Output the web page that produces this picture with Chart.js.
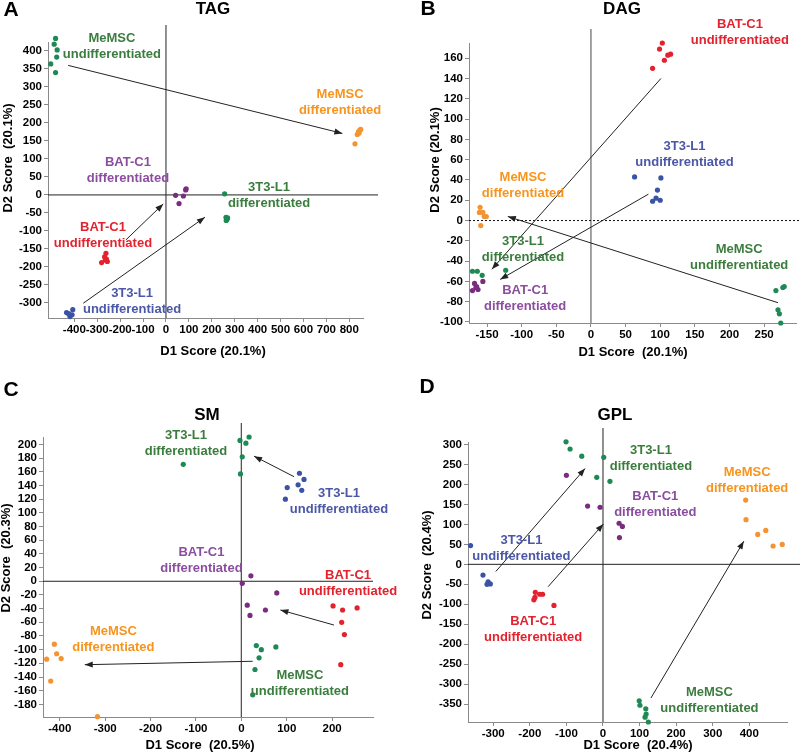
<!DOCTYPE html>
<html>
<head>
<meta charset="utf-8">
<script src="https://cdn.jsdelivr.net/npm/chart.js@4.4.0/dist/chart.umd.min.js"></script>
<style>
  body { margin: 0; background: #fff; }
  .panel { position: absolute; }
</style>
</head>
<body>
<canvas id="chartA" class="panel" width="400" height="376" style="left:0;top:0"></canvas>
<canvas id="chartB" class="panel" width="400" height="376" style="left:400px;top:0"></canvas>
<canvas id="chartC" class="panel" width="400" height="377" style="left:0;top:376px"></canvas>
<canvas id="chartD" class="panel" width="400" height="377" style="left:400px;top:376px"></canvas>
<script>
// ---- TAG (A) ----
const tagMemscUndiff = [[-482,435],[-488,419],[-475,403],[-477,383],[-503,364],[-482,340]];
const tagMemscDiff = [[825,142],[835,168],[840,175],[846,180],[850,182],[843,172]];
const tagBatDiff = [[86,14],[42,-1],[76,-3],[57,-24],[88,17]];
const tag3t3Diff = [[256,3],[262,-62],[266,-68],[269,-64],[263,-71]];
const tagBatUndiff = [[-281,-188],[-262,-162],[-256,-185],[-265,-181],[-268,-172],[-260,-178]];
const tag3t3Undiff = [[-434,-327],[-407,-319],[-419,-338],[-410,-333],[-425,-330]];
const tagArrows = [[-427,360,770,171],[-175,-125,-12,-25],[-361,-301,170,-62]];
const tagXTicks = [-400,-300,-200,-100,0,100,200,300,400,500,600,700,800];
const tagYTicks = [-300,-250,-200,-150,-100,-50,0,50,100,150,200,250,300,350,400];

// ---- DAG (B) ----
const dagBatUndiff = [[103,175],[99,169],[106,158],[111,163],[115,164],[89,150]];
const dag3t3Undiff = [[63,43],[101,42],[96,30],[89,19],[94,22],[100,20]];
const dagMemscDiff = [[-160,13],[-161,8],[-156,8],[-154,4],[-151,4],[-159,-5]];
const dag3t3Diff = [[-171,-50],[-164,-50],[-157,-54],[-123,-49]];
const dagBatDiff = [[-168,-62],[-165,-65],[-163,-68],[-171,-69],[-156,-60],[-166,-66]];
const dagMemscUndiff = [[267,-69],[277,-66],[279,-65],[270,-88],[272,-92],[274,-101]];
const dagArrows = [[101,140,-143,-48],[83,26,-131,-58],[270,-81,-120,4]];
const dagXTicks = [-150,-100,-50,0,50,100,150,200,250];
const dagYTicks = [-100,-80,-60,-40,-20,0,20,40,60,80,100,120,140,160];

// ---- SM (C) ----
const sm3t3Diff = [[-3,206],[10,202],[17,211],[2,182],[-2,157],[-128,171]];
const sm3t3Undiff = [[128,158],[138,149],[125,141],[133,133],[101,137],[97,120]];
const smBatDiff = [[21,8],[2,-3],[78,-17],[13,-35],[53,-42],[19,-50]];
const smBatUndiff = [[202,-36],[223,-42],[255,-39],[221,-60],[227,-78],[219,-122]];
const smMemscUndiff = [[33,-94],[44,-100],[76,-96],[39,-112],[30,-129],[25,-166]];
const smMemscDiff = [[-412,-92],[-407,-106],[-397,-113],[-429,-114],[-420,-146],[-317,-198]];
const smArrows = [[116,153,28,183],[204,-64,86,-42],[25,-117,-345,-122]];
const smXTicks = [-400,-300,-200,-100,0,100,200];
const smYTicks = [-180,-160,-140,-120,-100,-80,-60,-40,-20,0,20,40,60,80,100,120,140,160,180,200];

// ---- GPL (D) ----
const gpl3t3Diff = [[-101,307],[-90,289],[-58,271],[2,268],[-17,218],[19,208]];
const gplBatDiff = [[-100,223],[-42,146],[-8,143],[44,103],[53,95],[45,67]];
const gplMemscDiff = [[390,161],[391,112],[423,75],[445,85],[465,46],[490,50]];
const gpl3t3Undiff = [[-362,47],[-328,-27],[-314,-44],[-308,-49],[-317,-50]];
const gplBatUndiff = [[-185,-70],[-173,-75],[-165,-75],[-189,-89],[-186,-83],[-134,-103]];
const gplMemscUndiff = [[99,-342],[101,-353],[117,-362],[118,-375],[115,-383],[124,-395]];
const gplArrows = [[-293,-18,-49,240],[-150,-56,1,101],[131,-335,385,58]];
const gplXTicks = [-300,-200,-100,0,100,200,300,400];
const gplYTicks = [-350,-300,-250,-200,-150,-100,-50,0,50,100,150,200,250,300];

// colours
const GREEN = '#1d8a55', GREEN_TXT = '#3b7d3e';
const ORANGE = '#f39332', ORANGE_TXT = '#f7941d';
const RED = '#e3222e';
const BLUE = '#3a53a4', BLUE_TXT = '#4b57a7';
const PURPLE = '#7a2c80', PURPLE_TXT = '#8b4d9f';
const FONT = '"Liberation Sans", Arial, sans-serif';

function pts(arr) {
    return arr.map(p => ({ x: p[0], y: p[1] }));
}

function series(arr, color) {
    return { data: pts(arr), backgroundColor: color, borderWidth: 0, pointRadius: 2.6, clip: false };
}

function drawArrow(ctx, x1, y1, x2, y2) {
    ctx.beginPath();
    ctx.moveTo(x1, y1);
    ctx.lineTo(x2, y2);
    ctx.stroke();
    const a = Math.atan2(y2 - y1, x2 - x1), len = 8, w = 3;
    ctx.beginPath();
    ctx.moveTo(x2, y2);
    ctx.lineTo(x2 - len * Math.cos(a) + w * Math.sin(a), y2 - len * Math.sin(a) - w * Math.cos(a));
    ctx.lineTo(x2 - len * Math.cos(a) - w * Math.sin(a), y2 - len * Math.sin(a) + w * Math.cos(a));
    ctx.closePath();
    ctx.fill();
}

// draws zero lines, arrows, group labels and titles for one panel
const decorPlugin = {
    id: 'decor',
    beforeDatasetsDraw(chart) {
        const p = chart.options.plugins.decor;
        const ctx = chart.ctx, xs = chart.scales.x, ys = chart.scales.y;
        const x0 = xs.getPixelForValue(0), y0 = ys.getPixelForValue(0);
        ctx.save();
        ctx.strokeStyle = p.vColor;
        ctx.lineWidth = p.vWidth;
        ctx.setLineDash(p.vDash);
        ctx.beginPath();
        ctx.moveTo(x0, p.vTop);
        ctx.lineTo(x0, chart.chartArea.bottom);
        ctx.stroke();
        ctx.strokeStyle = p.hColor;
        ctx.lineWidth = 1;
        ctx.setLineDash(p.hDash);
        ctx.beginPath();
        ctx.moveTo(chart.chartArea.left, y0);
        ctx.lineTo(p.hRight, y0);
        ctx.stroke();
        ctx.restore();
    },
    afterDatasetsDraw(chart) {
        const p = chart.options.plugins.decor;
        const ctx = chart.ctx, xs = chart.scales.x, ys = chart.scales.y;
        ctx.save();
        ctx.strokeStyle = '#222';
        ctx.fillStyle = '#222';
        ctx.lineWidth = 1;
        p.arrows.forEach(a => {
            drawArrow(ctx, xs.getPixelForValue(a[0]), ys.getPixelForValue(a[1]),
                xs.getPixelForValue(a[2]), ys.getPixelForValue(a[3]));
        });
        ctx.textAlign = 'center';
        ctx.textBaseline = 'middle';
        ctx.font = 'bold 13px ' + FONT;
        p.labels.forEach(l => {
            const x = xs.getPixelForValue(l[2]), y = ys.getPixelForValue(l[3]);
            ctx.fillStyle = l[4];
            ctx.fillText(l[0], x, y - 8);
            ctx.fillText(l[1], x, y + 8);
        });
        ctx.fillStyle = '#000';
        ctx.font = 'bold 21px ' + FONT;
        ctx.fillText(p.letter, p.letterPos[0], p.letterPos[1]);
        ctx.font = 'bold 17px ' + FONT;
        ctx.fillText(p.title, p.titlePos[0], p.titlePos[1]);
        ctx.font = 'bold 13px ' + FONT;
        ctx.fillText(p.xTitle, p.xTitlePos[0], p.xTitlePos[1]);
        ctx.translate(p.yTitlePos[0], p.yTitlePos[1]);
        ctx.rotate(-Math.PI / 2);
        ctx.fillText(p.yTitle, 0, 0);
        ctx.restore();
    }
};

function makeChart(cfg) {
    const canvas = document.getElementById(cfg.id);
    const H = canvas.height;
    const axisStyle = {
        grid: { display: true, drawOnChartArea: false, drawTicks: true, tickLength: 4, color: '#8a8a8a' },
        border: { display: true, color: '#8a8a8a', width: 1 }
    };
    const tickFont = { family: FONT, size: 11.5, weight: 'bold' };
    return new Chart(canvas, {
        type: 'scatter',
        data: { datasets: cfg.datasets },
        options: {
            responsive: false,
            animation: false,
            events: [],
            layout: { padding: { left: 0, top: cfg.area[1], right: 400 - cfg.area[2], bottom: 0 } },
            scales: {
                x: Object.assign({
                    type: 'linear', min: cfg.xRange[0], max: cfg.xRange[1],
                    afterBuildTicks: s => { s.ticks = cfg.xTicks.map(v => ({ value: v })); },
                    afterFit: s => { s.height = H - cfg.area[3]; },
                    ticks: { autoSkip: false, maxRotation: 0, padding: 1, color: '#000', font: tickFont }
                }, axisStyle),
                y: Object.assign({
                    type: 'linear', min: cfg.yRange[0], max: cfg.yRange[1],
                    afterBuildTicks: s => { s.ticks = cfg.yTicks.map(v => ({ value: v })); },
                    afterFit: s => { s.width = cfg.area[0]; },
                    ticks: { autoSkip: false, padding: 2, color: '#000', font: tickFont }
                }, axisStyle)
            },
            plugins: {
                legend: { display: false },
                tooltip: { enabled: false },
                decor: cfg.decor
            }
        },
        plugins: [decorPlugin]
    });
}

// Panel A - TAG
makeChart({
    id: 'chartA', area: [48, 42, 363, 318], xRange: [-515, 860], yRange: [-342, 425],
    xTicks: tagXTicks, yTicks: tagYTicks,
    datasets: [
        series(tagMemscUndiff, GREEN), series(tagMemscDiff, ORANGE), series(tagBatDiff, PURPLE),
        series(tag3t3Diff, GREEN), series(tagBatUndiff, RED), series(tag3t3Undiff, BLUE)
    ],
    decor: {
        vColor: '#222', vWidth: 1, vDash: [], vTop: 25, hColor: '#222', hDash: [], hRight: 378,
        arrows: tagArrows,
        labels: [
            ['MeMSC', 'undifferentiated', -236, 414, GREEN_TXT],
            ['MeMSC', 'differentiated', 760, 258, ORANGE_TXT],
            ['BAT-C1', 'differentiated', -166, 67, PURPLE_TXT],
            ['3T3-L1', 'differentiated', 450, 0, GREEN_TXT],
            ['BAT-C1', 'undifferentiated', -275, -113, RED],
            ['3T3-L1', 'undifferentiated', -148, -295, BLUE_TXT]
        ],
        letter: 'A', letterPos: [11, 10], title: 'TAG', titlePos: [213, 9],
        xTitle: 'D1 Score (20.1%)', xTitlePos: [213, 351],
        yTitle: 'D2 Score  (20.1%)', yTitlePos: [8, 158]
    }
});

// Panel B - DAG
makeChart({
    id: 'chartB', area: [69, 43, 396, 323], xRange: [-176, 296], yRange: [-101, 175],
    xTicks: dagXTicks, yTicks: dagYTicks,
    datasets: [
        series(dagBatUndiff, RED), series(dag3t3Undiff, BLUE), series(dagMemscDiff, ORANGE),
        series(dag3t3Diff, GREEN), series(dagBatDiff, PURPLE), series(dagMemscUndiff, GREEN)
    ],
    decor: {
        vColor: '#8c8c8c', vWidth: 1.6, vDash: [], vTop: 29, hColor: '#111', hDash: [2, 2], hRight: 400,
        arrows: dagArrows,
        labels: [
            ['BAT-C1', 'undifferentiated', 215, 185, RED],
            ['3T3-L1', 'undifferentiated', 135, 65, BLUE_TXT],
            ['MeMSC', 'differentiated', -98, 35, ORANGE_TXT],
            ['3T3-L1', 'differentiated', -98, -28, GREEN_TXT],
            ['BAT-C1', 'differentiated', -95, -77, PURPLE_TXT],
            ['MeMSC', 'undifferentiated', 214, -36, GREEN_TXT]
        ],
        letter: 'B', letterPos: [28, 9], title: 'DAG', titlePos: [222, 9],
        xTitle: 'D1 Score  (20.1%)', xTitlePos: [233, 352],
        yTitle: 'D2 Score (20.1%)', yTitlePos: [35, 160]
    }
});

// Panel C - SM
makeChart({
    id: 'chartC', area: [43, 61, 373, 341], xRange: [-437, 290], yRange: [-198.5, 211],
    xTicks: smXTicks, yTicks: smYTicks,
    datasets: [
        series(sm3t3Diff, GREEN), series(sm3t3Undiff, BLUE), series(smBatDiff, PURPLE),
        series(smBatUndiff, RED), series(smMemscUndiff, GREEN), series(smMemscDiff, ORANGE)
    ],
    decor: {
        vColor: '#555', vWidth: 1.3, vDash: [], vTop: 47, hColor: '#222', hDash: [], hRight: 373,
        arrows: smArrows,
        labels: [
            ['3T3-L1', 'differentiated', -122, 201, GREEN_TXT],
            ['3T3-L1', 'undifferentiated', 215, 117, BLUE_TXT],
            ['BAT-C1', 'differentiated', -88, 31, PURPLE_TXT],
            ['BAT-C1', 'undifferentiated', 235, -3, RED],
            ['MeMSC', 'differentiated', -282, -85, ORANGE_TXT],
            ['MeMSC', 'undifferentiated', 129, -149, GREEN_TXT]
        ],
        letter: 'C', letterPos: [11, 14], title: 'SM', titlePos: [207, 39],
        xTitle: 'D1 Score  (20.5%)', xTitlePos: [200, 369],
        yTitle: 'D2 Score  (20.3%)', yTitlePos: [6, 182]
    }
});

// Panel D - GPL
makeChart({
    id: 'chartD', area: [68, 66, 387, 346], xRange: [-369, 503], yRange: [-395, 306.5],
    xTicks: gplXTicks, yTicks: gplYTicks,
    datasets: [
        series(gpl3t3Diff, GREEN), series(gplBatDiff, PURPLE), series(gplMemscDiff, ORANGE),
        series(gpl3t3Undiff, BLUE), series(gplBatUndiff, RED), series(gplMemscUndiff, GREEN)
    ],
    decor: {
        vColor: '#222', vWidth: 1, vDash: [], vTop: 52, hColor: '#222', hDash: [], hRight: 400,
        arrows: gplArrows,
        labels: [
            ['3T3-L1', 'differentiated', 131, 266, GREEN_TXT],
            ['BAT-C1', 'differentiated', 143, 151, PURPLE_TXT],
            ['MeMSC', 'differentiated', 394, 211, ORANGE_TXT],
            ['3T3-L1', 'undifferentiated', -223, 40, BLUE_TXT],
            ['BAT-C1', 'undifferentiated', -191, -164, RED],
            ['MeMSC', 'undifferentiated', 291, -340, GREEN_TXT]
        ],
        letter: 'D', letterPos: [27, 11], title: 'GPL', titlePos: [215, 39],
        xTitle: 'D1 Score  (20.4%)', xTitlePos: [238, 369],
        yTitle: 'D2 Score  (20.4%)', yTitlePos: [27, 189]
    }
});
</script>
</body>
</html>
